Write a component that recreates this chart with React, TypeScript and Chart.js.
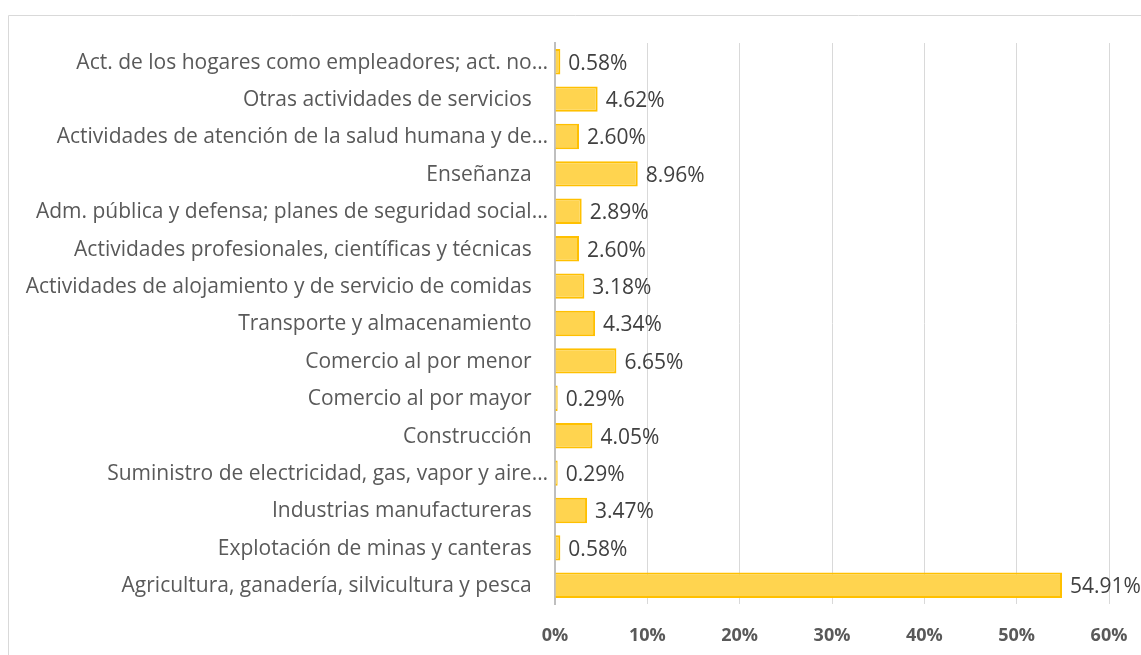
import React, { useEffect, useRef } from "react";
import { Chart, registerables } from "chart.js";

Chart.register(...registerables);

const categories: string[] = [
  "Act. de los hogares como empleadores; act. no…",
  "Otras actividades de servicios   ",
  "Actividades de atención de la salud humana y de…",
  "Enseñanza   ",
  "Adm. pública y defensa; planes de seguridad social…",
  "Actividades profesionales, científicas y técnicas   ",
  "Actividades de alojamiento y de servicio de comidas   ",
  "Transporte y almacenamiento   ",
  "Comercio al por menor   ",
  "Comercio al por mayor   ",
  "Construcción   ",
  "Suministro de electricidad, gas, vapor y aire…",
  "Industrias manufactureras   ",
  "Explotación de minas y canteras   ",
  "Agricultura, ganadería, silvicultura y pesca   ",
];

const values: number[] = [
  0.58, 4.62, 2.6, 8.96, 2.89, 2.6, 3.18, 4.34, 6.65, 0.29, 4.05, 0.29, 3.47, 0.58, 54.91,
];

const xTicks: number[] = [0, 10, 20, 30, 40, 50, 60];

const FONT = "'Open Sans', 'DejaVu Sans', sans-serif";

export default function App() {
  const ref = useRef<HTMLCanvasElement | null>(null);

  useEffect(() => {
    if (!ref.current) return;
    const borderPlugin = {
      id: "frameBorder",
      beforeDraw(chart: any) {
        const ctx = chart.ctx;
        ctx.save();
        ctx.strokeStyle = "#d9d9d9";
        ctx.lineWidth = 1;
        ctx.beginPath();
        ctx.moveTo(8.5, 700);
        ctx.lineTo(8.5, 15.5);
        ctx.lineTo(1200, 15.5);
        ctx.stroke();
        ctx.restore();
      },
    };
    const labelPlugin = {
      id: "textLabels",
      afterDraw(chart: any) {
        const ctx = chart.ctx;
        const meta = chart.getDatasetMeta(0);
        const yScale = chart.scales.y;
        ctx.save();
        ctx.font = `21px ${FONT}`;
        ctx.fillStyle = "#595959";
        ctx.textAlign = "right";
        ctx.textBaseline = "middle";
        categories.forEach((c, i) => {
          ctx.fillText(c, yScale.right - 7, yScale.getPixelForTick(i) + 1);
        });
        ctx.fillStyle = "#404040";
        ctx.textAlign = "left";
        meta.data.forEach((bar: any, i: number) => {
          ctx.fillText(values[i].toFixed(2) + "%", bar.x + 8, bar.y + 2);
        });
        ctx.restore();
      },
    };
    const chart = new Chart(ref.current, {
      type: "bar",
      data: {
        labels: categories,
        datasets: [
          {
            data: values,
            backgroundColor: "#ffd44f",
            borderColor: "#ffc000",
            borderWidth: 2,
            barPercentage: 0.68,
            categoryPercentage: 1,
          },
        ],
      },
      options: {
        indexAxis: "y",
        animation: false,
        responsive: false,
        layout: { padding: { top: 43, right: 32, left: 0, bottom: 0 } },
        plugins: {
          legend: { display: false },
          tooltip: { enabled: false },
        },
        scales: {
          x: {
            min: 0,
            max: 60,
            afterBuildTicks(scale: any) {
              scale.ticks = xTicks.map((v) => ({ value: v }));
            },
            afterFit(scale: any) {
              scale.height = 51;
              scale.paddingLeft = 0;
              scale.paddingRight = 0;
            },
            ticks: {
              callback: (v: any) => v + "%",
              color: "#595959",
              font: { family: FONT, size: 18, weight: "bold" },
              padding: 21,
              maxRotation: 0,
            },
            grid: { color: "#d9d9d9", lineWidth: 1, drawTicks: false },
            border: { display: false },
          },
          y: {
            afterFit(scale: any) {
              scale.width = 555;
              scale.paddingTop = 0;
              scale.paddingBottom = 0;
            },
            ticks: {
              display: false,
              autoSkip: false,
            },
            grid: { display: false, drawTicks: false },
            border: { display: true, color: "#bfbfbf", width: 2 },
          },
        },
      },
      plugins: [borderPlugin, labelPlugin],
    });
    return () => chart.destroy();
  }, []);

  return (
    <div style={{ position: "fixed", left: 0, top: 0, width: 1141, height: 655, background: "#fff" }}>
      <canvas ref={ref} width={1141} height={655} style={{ display: "block" }} />
    </div>
  );
}
